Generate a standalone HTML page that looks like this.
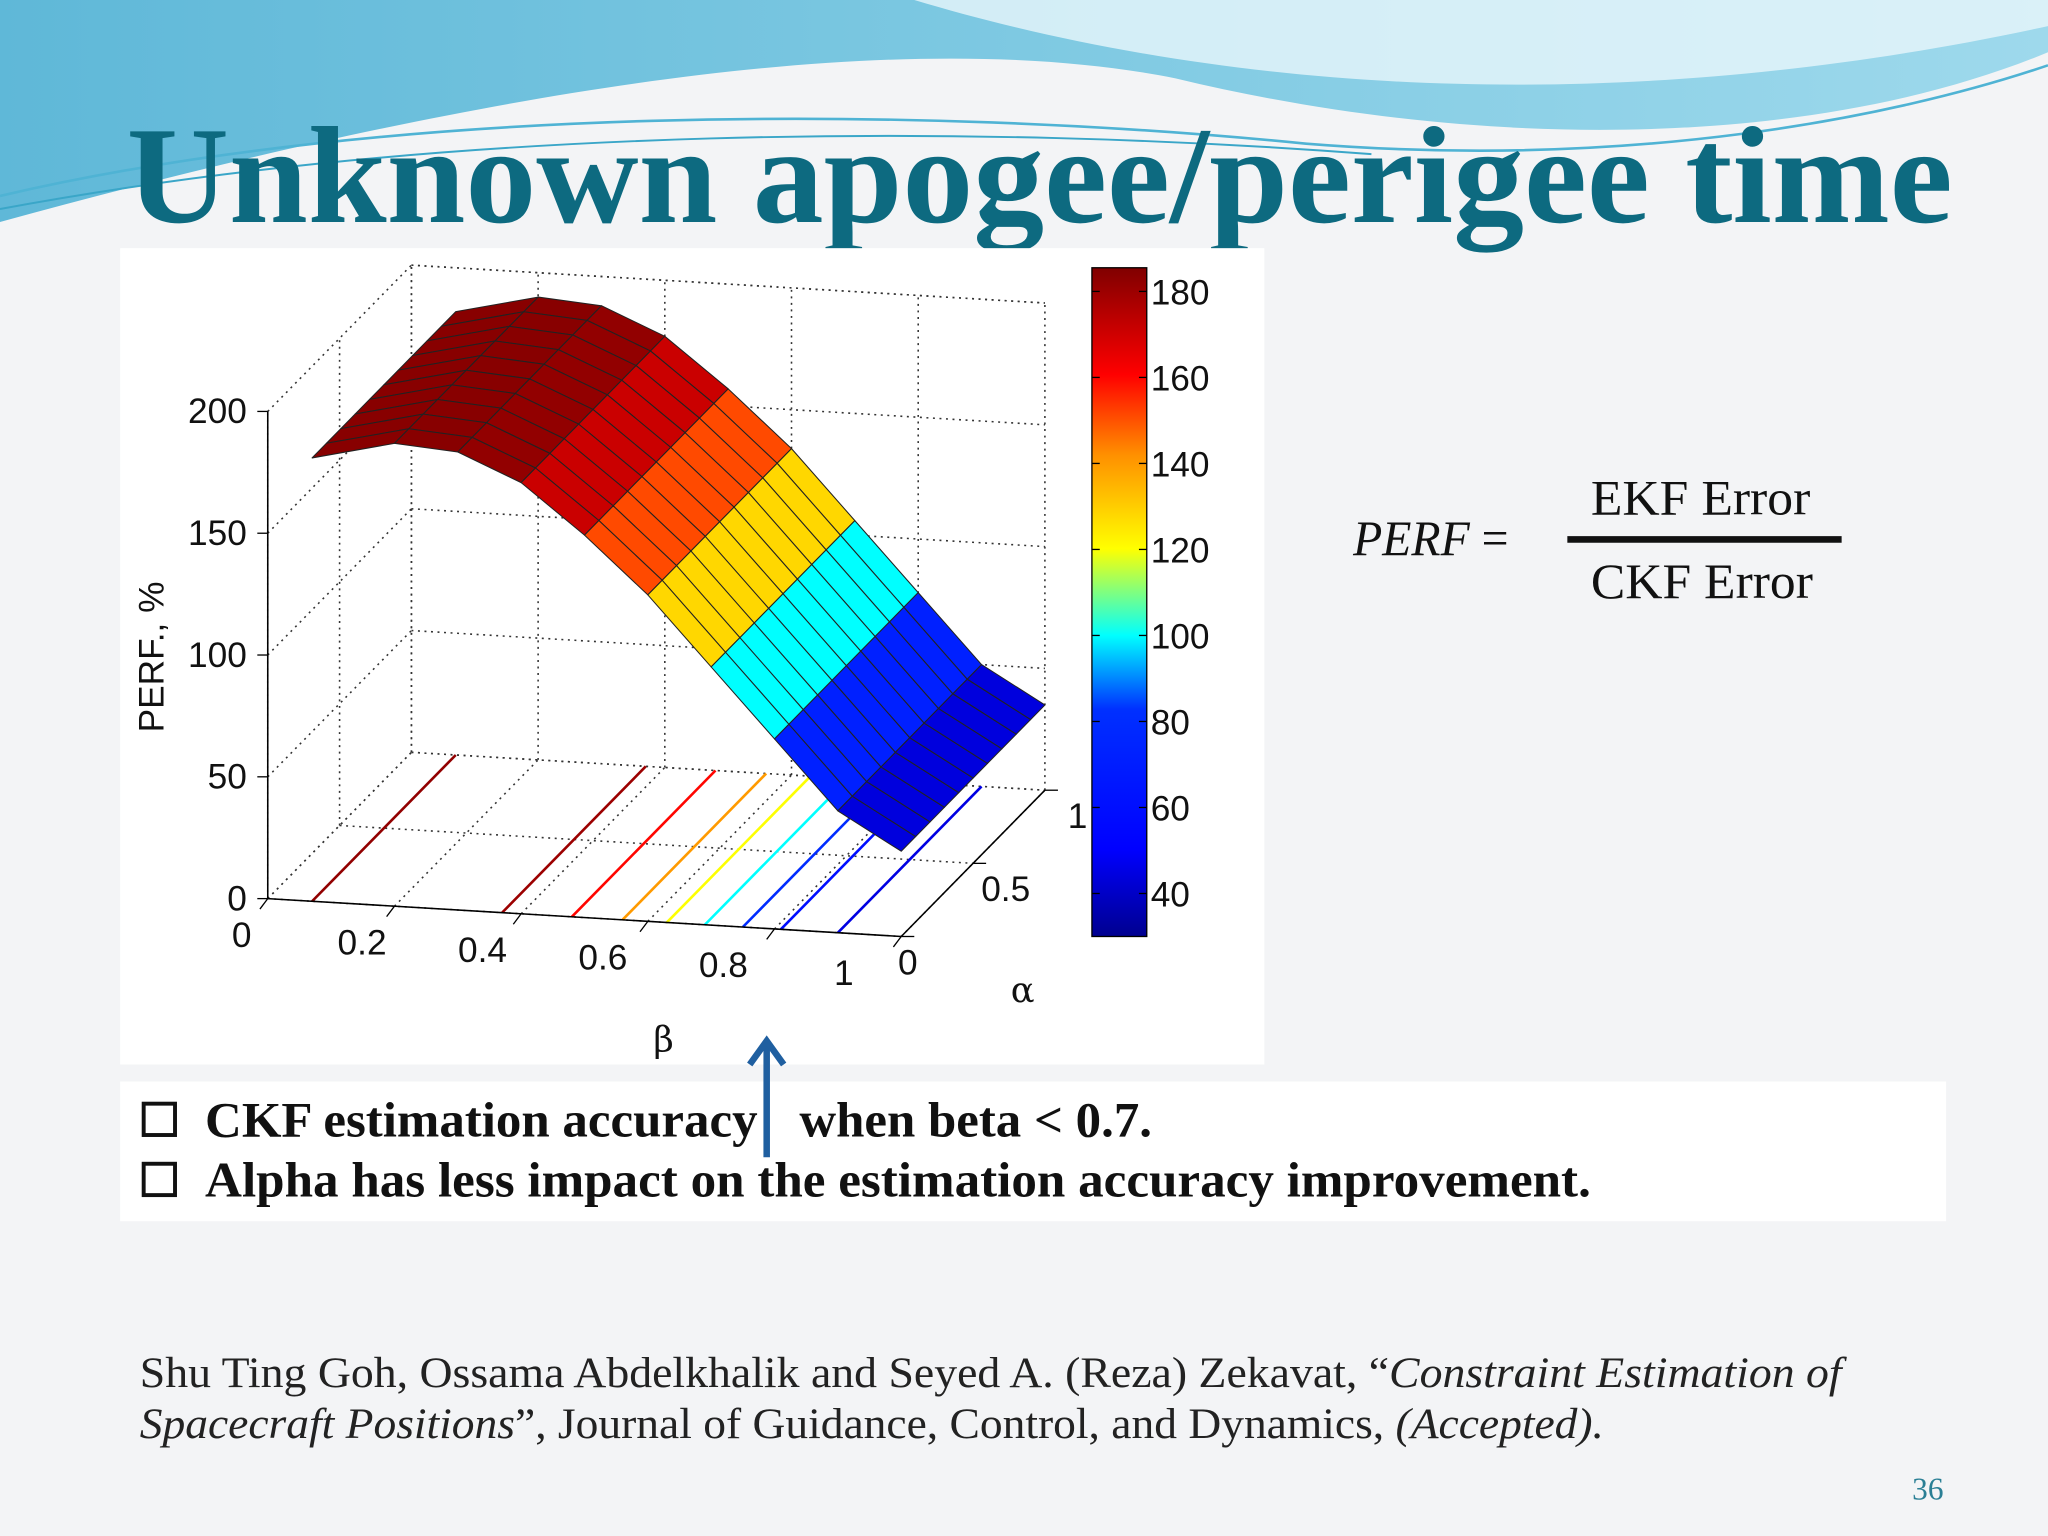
<!DOCTYPE html>
<html><head><meta charset="utf-8"><style>
html,body{margin:0;padding:0;background:#f3f4f6}
svg{display:block}
</style></head><body>
<svg width="2048" height="1536" viewBox="0 0 1568 1176" xmlns="http://www.w3.org/2000/svg">
<defs>
<linearGradient id="wave" x1="0" y1="0" x2="1" y2="0">
<stop offset="0" stop-color="#5fb8d8"/><stop offset="0.5" stop-color="#7ec9e2"/><stop offset="1" stop-color="#9ed9ec"/>
</linearGradient>
<linearGradient id="cbar" x1="0" y1="1" x2="0" y2="0">
<stop offset="0" stop-color="#00008f"/><stop offset="0.13" stop-color="#0000ff"/><stop offset="0.34" stop-color="#0030ff"/><stop offset="0.45" stop-color="#00ffff"/><stop offset="0.58" stop-color="#ffff00"/><stop offset="0.72" stop-color="#ff9000"/><stop offset="0.84" stop-color="#ff0000"/><stop offset="1" stop-color="#800000"/>
</linearGradient>
</defs>
<rect x="0" y="0" width="1568" height="1176" fill="#f3f4f6"/>
<g>
<path d="M0 0 H1568 V40 C1400 110 1150 120 900 60 C700 20 400 60 0 170 Z" fill="url(#wave)"/>
<path d="M700 0 C900 60 1200 100 1568 20 V0 Z" fill="#e9f6fb" opacity="0.8"/>
<path d="M0 150 C300 80 700 80 1000 110 C1250 130 1450 90 1568 50" fill="none" stroke="#4fb3d4" stroke-width="2"/>
<path d="M0 160 C350 95 750 95 1050 118" fill="none" stroke="#3aa6c8" stroke-width="1.5"/>
</g>
<text x="97" y="170" textLength="1398" lengthAdjust="spacingAndGlyphs" font-family="Liberation Serif, serif" font-weight="bold" font-size="106" fill="#0d6a80">Unknown apogee/perigee time</text>
<rect x="92" y="190" width="876" height="625" fill="#ffffff"/>
<g id="chart"></g>
<g font-family="Liberation Serif, serif" font-size="38" fill="#111">
<text x="1036" y="425" textLength="119" lengthAdjust="spacingAndGlyphs"><tspan font-style="italic">PERF</tspan> =</text>
<text x="1218" y="394" textLength="168" lengthAdjust="spacingAndGlyphs">EKF Error</text>
<line x1="1200" y1="413" x2="1410" y2="413" stroke="#111" stroke-width="5"/>
<text x="1218" y="458" textLength="170" lengthAdjust="spacingAndGlyphs">CKF Error</text>
</g>
<rect x="92" y="828" width="1398" height="107" fill="#ffffff"/>
<g font-family="Liberation Serif, serif" font-weight="bold" font-size="38" fill="#111">
<rect x="110" y="845" width="24" height="24" fill="none" stroke="#111" stroke-width="3"/>
<text x="157" y="870" textLength="423" lengthAdjust="spacingAndGlyphs">CKF estimation accuracy</text><text x="612" y="870" textLength="270" lengthAdjust="spacingAndGlyphs">when beta &lt; 0.7.</text>
<rect x="110" y="891" width="24" height="24" fill="none" stroke="#111" stroke-width="3"/>
<text x="157" y="916" textLength="1061" lengthAdjust="spacingAndGlyphs">Alpha has less impact on the estimation accuracy improvement.</text>
</g>
<g stroke="#1f5fa0" stroke-width="5" fill="none">
<line x1="587" y1="886" x2="587" y2="800"/><polyline points="574,815 587,797 600,815"/>
</g>
<g font-family="Liberation Serif, serif" font-size="33" fill="#222">
<text x="107" y="1062" textLength="1303" lengthAdjust="spacingAndGlyphs">Shu Ting Goh, Ossama Abdelkhalik and Seyed A. (Reza) Zekavat, “<tspan font-style="italic">Constraint Estimation of</tspan></text>
<text x="107" y="1101" textLength="1121" lengthAdjust="spacingAndGlyphs"><tspan font-style="italic">Spacecraft Positions</tspan>”, Journal of Guidance, Control, and Dynamics, <tspan font-style="italic">(Accepted).</tspan></text>
</g>
<text x="1476" y="1148" text-anchor="middle" font-family="Liberation Serif, serif" font-size="24" fill="#2a7f95">36</text>
</svg>
<script>
const betaGrid=[0.07,0.2,0.3,0.4,0.5,0.6,0.7,0.8,0.9,1.0];
const perfValues=[182,190,188,177,157,134,106,78,50,35];
const alphaGrid=[0,0.1,0.2,0.3,0.4,0.5,0.6,0.7,0.8,0.9,1.0];
const contourBeta=[0.07,0.37,0.48,0.56,0.63,0.69,0.75,0.81,0.9];
const contourLevel=[182,180,160,140,120,100,80,60,45];
const zTicks=[0,50,100,150,200];
const betaTicks=[0,0.2,0.4,0.6,0.8,1];
const betaTickLabels=["0","0.2","0.4","0.6","0.8","1"];
const alphaTicks=[0,0.5,1];
const alphaTickLabels=["0","0.5","1"];
const cbarTicks=[40,60,80,100,120,140,160,180];
const cmin=30,cmax=185.5;
const NS="http://www.w3.org/2000/svg";
const g=document.getElementById('chart');
function P(b,a,z){return [205+485*b+110*a,688+29*b-112*a-1.865*z];}
function mk(t,at,par){const e=document.createElementNS(NS,t);for(const k in at)e.setAttribute(k,at[k]);(par||g).appendChild(e);return e;}
const cmapStops=[[0,[0,0,143]],[0.13,[0,0,255]],[0.34,[0,48,255]],[0.45,[0,255,255]],[0.58,[255,255,0]],[0.72,[255,144,0]],[0.84,[255,0,0]],[1,[128,0,0]]];
function jet(v){let t=(v-cmin)/(cmax-cmin);t=Math.max(0,Math.min(1,t));
 for(let i=0;i<cmapStops.length-1;i++){const [t0,c0]=cmapStops[i],[t1,c1]=cmapStops[i+1];
  if(t<=t1){const u=(t-t0)/(t1-t0);const c=c0.map((x,k)=>Math.round(x+(c1[k]-x)*u));return `rgb(${c[0]},${c[1]},${c[2]})`;}}
 return 'rgb(128,0,0)';}
function ln(p,q,st,par){return mk('line',{x1:p[0],y1:p[1],x2:q[0],y2:q[1],stroke:st.c||'#000','stroke-width':st.w||1,'stroke-dasharray':st.d||''},par);}
const grid=mk('g',{});


const dot={c:'#333',w:1.2,d:'1.5,3.5'};
zTicks.forEach(z=>{ln(P(0,0,z),P(0,1,z),dot,grid);ln(P(0,1,z),P(1,1,z),dot,grid);});
betaTicks.forEach(b=>{ln(P(b,0,0),P(b,1,0),dot,grid);ln(P(b,1,0),P(b,1,200),dot,grid);});
alphaTicks.forEach(a=>{ln(P(0,a,0),P(1,a,0),dot,grid);ln(P(0,a,0),P(0,a,200),dot,grid);});
ln(P(0,1,200),P(1,1,200),dot,grid);
contourBeta.forEach((b,i)=>{const l=ln(P(b,0,0),P(b,1,0),{c:jet(contourLevel[i]),w:2});

});
const ax=mk('g',{fill:'#111','font-family':'Liberation Sans, sans-serif','font-size':'27'});


ln(P(0,0,0),P(0,0,200),{c:'#000',w:1.2},ax);
ln(P(0,0,0),P(1,0,0),{c:'#000',w:1.2},ax);
ln(P(1,0,0),P(1,1,0),{c:'#000',w:1.2},ax);
zTicks.forEach(z=>{const p=P(0,0,z);ln(p,[p[0]-8,p[1]],{c:'#000'},ax);
 const t=mk('text',{x:p[0]-16,y:p[1]+9,'text-anchor':'end'},ax);t.textContent=z;});
betaTicks.forEach((b,i)=>{const p=P(b,0,0);ln(p,[p[0]-6,p[1]+8],{c:'#000'},ax);
 const t=mk('text',{x:p[0]-20-24*b,y:p[1]+37,'text-anchor':'middle'},ax);t.textContent=betaTickLabels[i];});
alphaTicks.forEach((a,i)=>{const p=P(1,a,0);ln(p,[p[0]+10,p[1]],{c:'#000'},ax);
 const t=mk('text',{x:p[0]+5+20*Math.min(1,a*2),y:p[1]+29,'text-anchor':'middle'},ax);t.textContent=alphaTickLabels[i];});
const zl=mk('text',{x:0,y:0,transform:'translate(125,503) rotate(-90)','text-anchor':'middle'},ax);zl.textContent='PERF., %';
const bl=mk('text',{x:508,y:805,'text-anchor':'middle','font-family':'DejaVu Serif, serif'},ax);bl.textContent='β';
const al=mk('text',{x:783,y:767,'text-anchor':'middle','font-family':'DejaVu Serif, serif'},ax);al.textContent='α';
const surf=mk('g',{});


for(let j=alphaGrid.length-2;j>=0;j--){
 for(let i=0;i<betaGrid.length-1;i++){
  const a0=alphaGrid[j],a1=alphaGrid[j+1],b0=betaGrid[i],b1=betaGrid[i+1];
  const z0=perfValues[i],z1=perfValues[i+1];
  const pts=[P(b0,a0,z0),P(b1,a0,z1),P(b1,a1,z1),P(b0,a1,z0)].map(p=>p.join(',')).join(' ');
  const f=mk('polygon',{points:pts,fill:jet(Math.max(z0,z1)-6),stroke:'#222','stroke-width':0.8,'stroke-linejoin':'round'},surf);
  
  
 }
}
const cb=mk('g',{'font-family':'Liberation Sans, sans-serif','font-size':'27',fill:'#111'});


const cy=v=>717-(v-cmin)/(cmax-cmin)*512;
mk('rect',{x:836,y:205,width:42,height:512,fill:'url(#cbar)',stroke:'#000','stroke-width':1},cb);
cbarTicks.forEach(v=>{const y=cy(v);ln([836,y],[842,y],{c:'#000'},cb);ln([872,y],[878,y],{c:'#000'},cb);
 const t=mk('text',{x:881,y:y+10},cb);t.textContent=v;});
</script>
</body></html>
